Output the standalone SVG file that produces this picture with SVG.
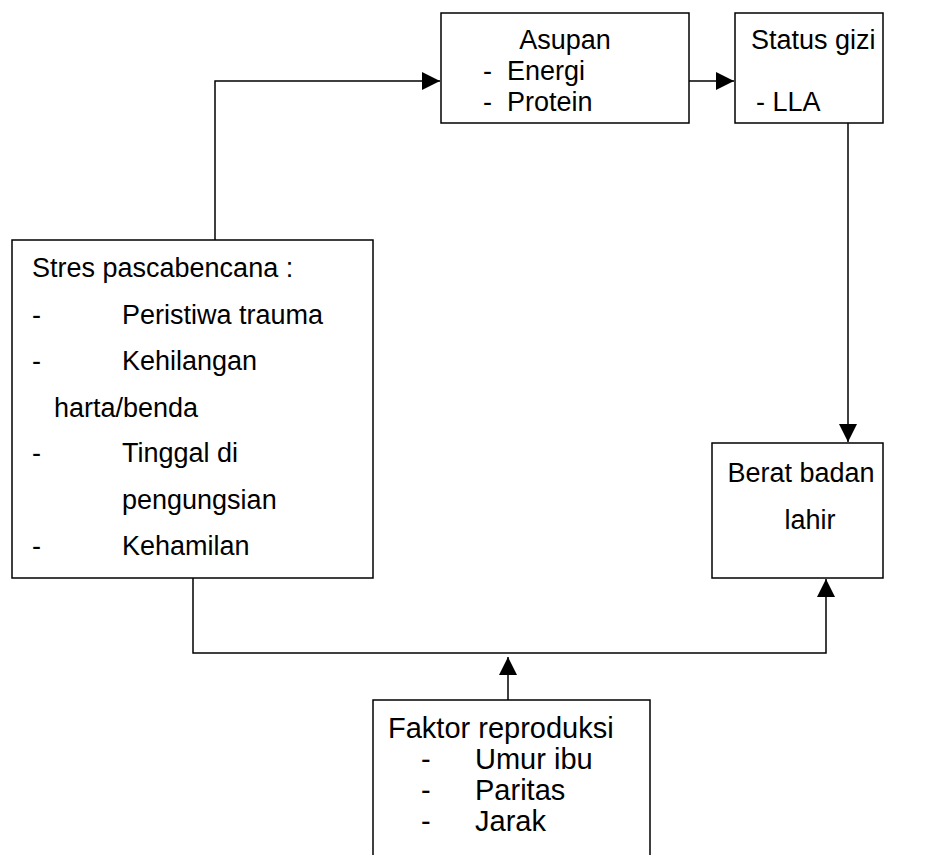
<svg xmlns="http://www.w3.org/2000/svg" width="949" height="855" viewBox="0 0 949 855">
  <style>
    .box { fill: #ffffff; stroke: #000000; stroke-width: 1.5; }
    .line { fill: none; stroke: #000000; stroke-width: 1.5; }
    text { font-family: "Liberation Sans", Arial, sans-serif; font-size: 27px; fill: #000000; }
    .mid { text-anchor: middle; }
    .fr { font-size: 29px; }
  </style>
  <defs>
    <marker id="arrow" viewBox="0 0 10 10" refX="10" refY="5" markerWidth="20" markerHeight="18" markerUnits="userSpaceOnUse" orient="auto">
      <path d="M0,0 L10,5 L0,10 z" fill="#000000"/>
    </marker>
  </defs>
  <rect width="949" height="855" fill="#ffffff"/>

  <!-- connectors between the boxes -->
  <g id="connectors">
    <polyline class="line" points="215,240 215,81 440,81" marker-end="url(#arrow)"/>
    <line class="line" x1="689" y1="81" x2="734" y2="81" marker-end="url(#arrow)"/>
    <line class="line" x1="848" y1="123" x2="848" y2="442" marker-end="url(#arrow)"/>
    <polyline class="line" points="193,578 193,653 826,653 826,579" marker-end="url(#arrow)"/>
    <line class="line" x1="508" y1="700" x2="508" y2="657" marker-end="url(#arrow)"/>
  </g>

  <g id="asupan">
    <rect class="box" x="441" y="13" width="248" height="110"/>
    <text class="mid" x="565" y="49">Asupan</text>
    <text x="483" y="80">-</text>
    <text x="507" y="80">Energi</text>
    <text x="483" y="111">-</text>
    <text x="507" y="111">Protein</text>
  </g>

  <g id="status-gizi">
    <rect class="box" x="735" y="13" width="148" height="110"/>
    <text x="751" y="49">Status gizi</text>
    <text x="756" y="111">- LLA</text>
  </g>

  <g id="stres">
    <rect class="box" x="12" y="240" width="361" height="338"/>
    <text x="32" y="277">Stres pascabencana :</text>
    <text x="32" y="324">-</text>
    <text x="122" y="324">Peristiwa trauma</text>
    <text x="32" y="370">-</text>
    <text x="122" y="370">Kehilangan</text>
    <text x="54" y="417">harta/benda</text>
    <text x="32" y="462">-</text>
    <text x="122" y="462">Tinggal di</text>
    <text x="122" y="509">pengungsian</text>
    <text x="32" y="555">-</text>
    <text x="122" y="555">Kehamilan</text>
  </g>

  <g id="berat-badan">
    <rect class="box" x="712" y="443" width="171" height="135"/>
    <text class="mid" x="801" y="482">Berat badan</text>
    <text class="mid" x="810" y="529">lahir</text>
  </g>

  <g id="faktor-reproduksi">
    <rect class="box" x="373" y="700" width="277" height="170"/>
    <text class="fr" x="388" y="738">Faktor reproduksi</text>
    <text class="fr" x="421" y="769">-</text>
    <text class="fr" x="475" y="769">Umur ibu</text>
    <text class="fr" x="421" y="800">-</text>
    <text class="fr" x="475" y="800">Paritas</text>
    <text class="fr" x="421" y="831">-</text>
    <text class="fr" x="475" y="831">Jarak</text>
  </g>
</svg>
